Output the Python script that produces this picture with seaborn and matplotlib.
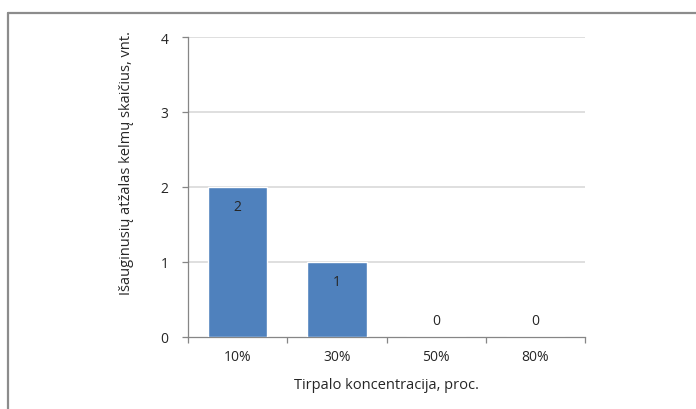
import matplotlib
matplotlib.use("Agg")
import matplotlib.pyplot as plt
import seaborn as sns
import pandas as pd
from matplotlib.lines import Line2D

# Data
concentrations = ["10%", "30%", "50%", "80%"]
counts = [2, 1, 0, 0]
y_ticks = [0, 1, 2, 3, 4]

x_label = "Tirpalo koncentracija, proc."
y_label = "Išauginusių atžalas kelmų skaičius, vnt."

bar_color = "#4F81BD"
grid_color = "#D9D9D9"
axis_color = "#868686"
text_color = "#262626"

sns.set_theme(style="white")
plt.rcParams["font.family"] = ["Open Sans", "DejaVu Sans"]

df = pd.DataFrame({"konc": concentrations, "kiekis": counts})

fig = plt.figure(figsize=(6.96, 4.10), dpi=100)
W, H = 696, 410
ax = fig.add_axes([188 / W, 1 - 338 / H, (585 - 188) / W, (338 - 38) / H])

sns.barplot(data=df, x="konc", y="kiekis", color=bar_color, width=0.6,
            saturation=1, ax=ax, zorder=3)

ax.set_ylim(0, 4)
ax.set_xlim(-0.5, len(concentrations) - 0.5)
ax.set_yticks(y_ticks)
ax.set_yticklabels([str(v) for v in y_ticks], fontsize=10, color=text_color)
ax.set_xticks(range(len(concentrations)))
ax.set_xticklabels(concentrations, fontsize=10, color=text_color)

# horizontal gridlines
for v in y_ticks[1:]:
    ax.axhline(v, color=grid_color, lw=1.2, zorder=1)

for s in ["top", "right"]:
    ax.spines[s].set_visible(False)
for s in ["left", "bottom"]:
    ax.spines[s].set_color(axis_color)
    ax.spines[s].set_linewidth(0.9)

# tick marks: y ticks outside, x ticks at category boundaries
ax.tick_params(axis="y", which="major", length=4, width=0.9, color=axis_color,
               direction="out", left=True, pad=10)
ax.tick_params(axis="x", which="major", length=0, pad=9)
ax.set_xticks([i - 0.5 for i in range(len(concentrations) + 1)], minor=True)
ax.tick_params(axis="x", which="minor", length=4, width=0.9, color=axis_color,
               direction="out", bottom=True)

ax.set_xlabel(x_label, fontsize=10.5, color=text_color, labelpad=9)
ax.set_ylabel(y_label, fontsize=10.5, color=text_color)
ax.yaxis.set_label_coords(-0.136, 0.583)

# value labels: inside the bar end, above the axis for zero values
for i, v in enumerate(counts):
    offset = -14 if v > 0 else 12
    ax.annotate(str(v), (i, v), xytext=(0, offset), textcoords="offset points",
                ha="center", va="center", fontsize=10, color=text_color,
                zorder=4)

# chart frame border (top and left edges)
fig.add_artist(Line2D([8 / W, 1], [1 - 14 / H, 1 - 14 / H], color="#8C8C8C",
                      lw=1.6, transform=fig.transFigure))
fig.add_artist(Line2D([8 / W, 8 / W], [0, 1 - 14 / H], color="#8C8C8C",
                      lw=1.6, transform=fig.transFigure))

fig.savefig("out.png", dpi=100)
